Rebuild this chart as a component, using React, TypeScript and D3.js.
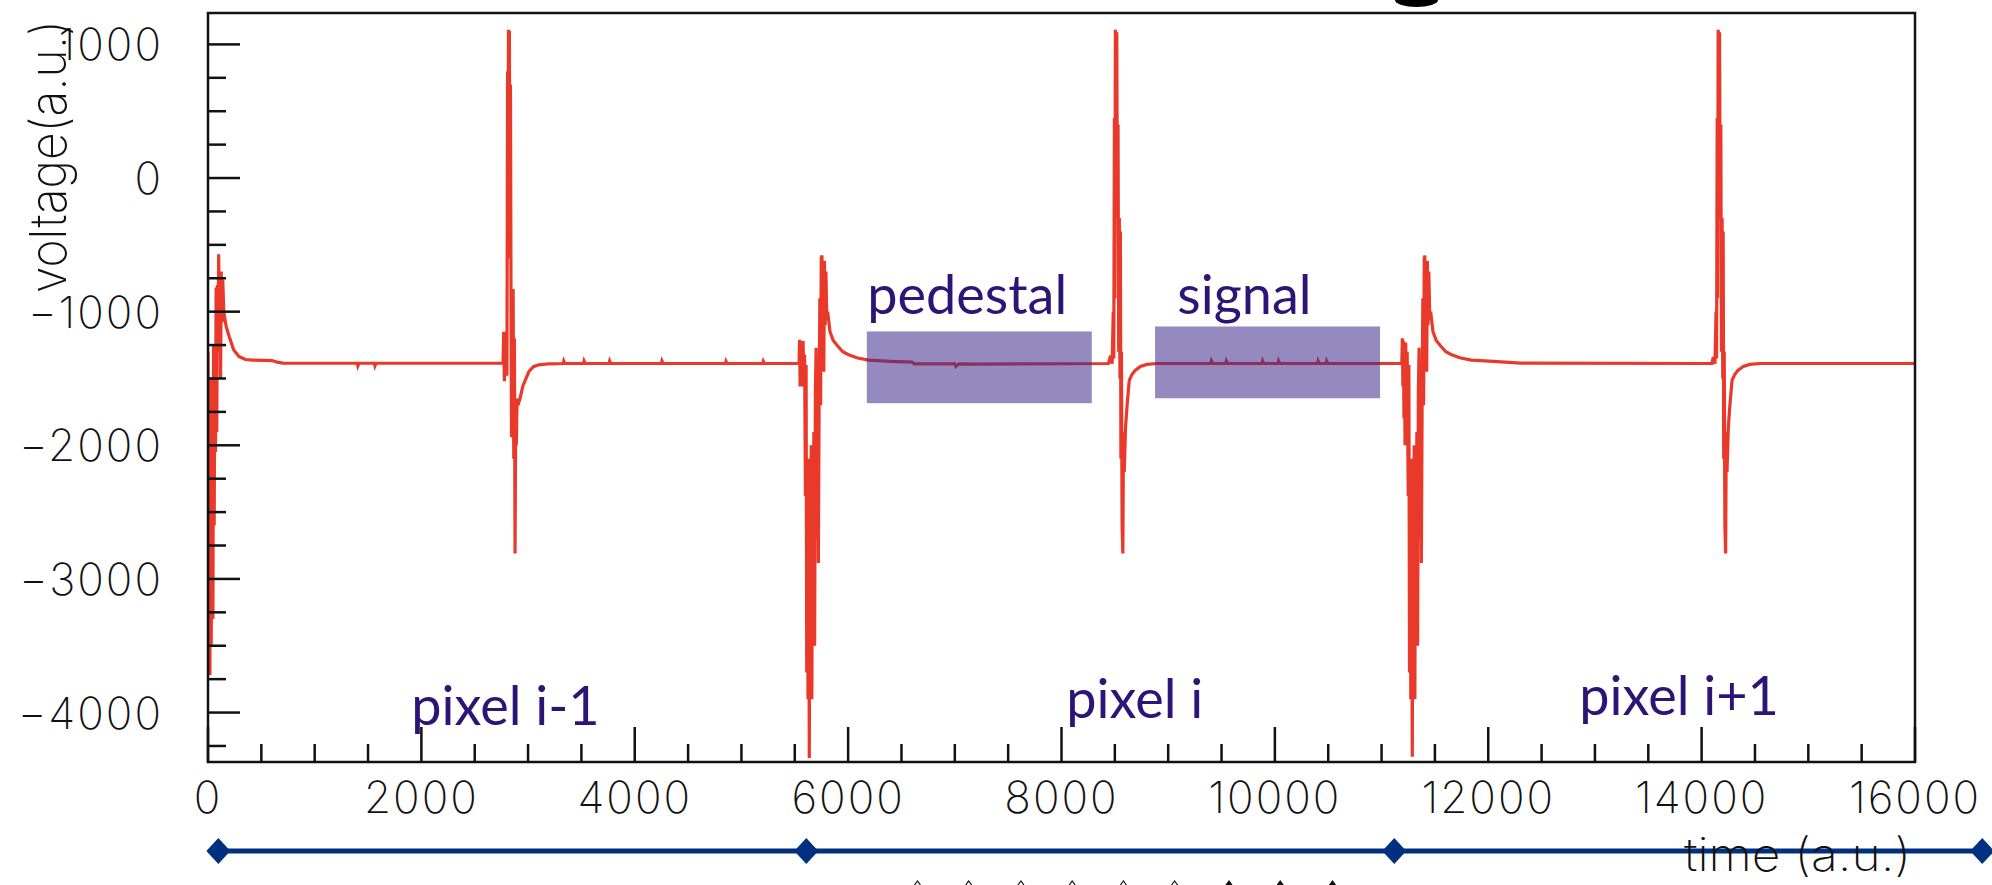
import React, { useEffect } from 'react';
import * as d3 from 'd3';

const W = 1992;
const H = 885;

// scope trace, [time, voltage] pairs, one array per stretch
const prevPixelStart: [number, number][] = [
    [0, -1300], [6, -3000], [12, -1700], [18, -3720], [24, -1500], [30, -3500], [38, -1900],
    [46, -3300], [52, -1250], [58, -2600], [64, -1300], [70, -2050], [76, -820], [82, -1900],
    [88, -800], [94, -1300], [100, -570], [106, -1000], [112, -700], [118, -1500], [124, -700],
    [130, -1080], [138, -760], [148, -1000], [170, -1110], [200, -1190], [240, -1285],
    [290, -1335], [350, -1358], [420, -1362], [600, -1366], [650, -1378], [700, -1385],
];
const prevPixelBaseline: [number, number][] = [
    [1400, -1386], [1405, -1405], [1415, -1386], [1560, -1386], [1565, -1405], [1575, -1386],
    [2765, -1386],
];
const prevPixelSignal: [number, number][] = [
    [2772, -1150], [2778, -1520], [2784, -1170], [2790, -1480], [2796, -1150], [2802, -1480],
    [2808, 800], [2812, -600], [2816, 1110], [2820, -300], [2825, 1100], [2830, -400],
    [2835, 700], [2840, -850], [2845, -1940], [2850, -830], [2855, -1800], [2860, -830],
    [2866, -2100], [2872, -1200], [2878, -2810], [2884, -1800], [2890, -2000], [2897, -1650],
    [2905, -1700], [2925, -1650], [2950, -1560], [2975, -1510], [3010, -1445], [3050, -1412],
    [3100, -1398], [3200, -1390],
];
const prevPixelTail: [number, number][] = [
    [3330, -1388], [3335, -1370], [3345, -1388], [3520, -1388], [3525, -1370], [3535, -1388],
    [3760, -1388], [3765, -1370], [3775, -1388], [4250, -1388], [4255, -1370], [4265, -1388],
    [4850, -1388], [4855, -1372], [4865, -1388], [5200, -1388], [5205, -1372], [5215, -1388],
    [5540, -1388],
];
const pixelStart: [number, number][] = [
    [5545, -1210], [5550, -1560], [5555, -1220], [5560, -1560], [5566, -1220], [5572, -1560],
    [5578, -1220], [5584, -1560], [5592, -1320], [5600, -2380], [5606, -1400], [5612, -3700],
    [5618, -2200], [5624, -3900], [5630, -2100], [5636, -4340], [5642, -2300], [5648, -2900],
    [5654, -2000], [5660, -3900], [5666, -2300], [5672, -2650], [5679, -1900], [5686, -3500],
    [5693, -1600], [5700, -1270], [5707, -2700], [5714, -1500], [5721, -2880], [5728, -1690],
    [5735, -900], [5742, -1700], [5748, -600], [5755, -580], [5761, -1450], [5766, -700],
    [5772, -1450], [5778, -620], [5785, -1100], [5792, -700], [5800, -1060], [5808, -1000],
    [5830, -1150], [5860, -1215], [5900, -1255], [5950, -1300], [6000, -1320], [6080, -1345],
    [6190, -1362], [6400, -1372],
];
const pedestalRun: [number, number][] = [
    [6600, -1378], [6620, -1390], [7000, -1390], [7010, -1410], [7040, -1390], [7200, -1392],
    [8440, -1388],
];
const pixelSignal: [number, number][] = [
    [8460, -1330], [8475, -1390], [8485, -1000], [8490, -1350], [8496, 450], [8500, -900],
    [8505, 1110], [8510, -200], [8518, 1090], [8524, -300], [8530, 400], [8536, -1300],
    [8542, -300], [8548, -1500], [8552, -400], [8557, -2100], [8562, -1300], [8568, -2600],
    [8575, -2810], [8581, -1900], [8588, -2200], [8600, -1870], [8615, -1700], [8635, -1515],
    [8660, -1470], [8690, -1440], [8740, -1410], [8800, -1395], [8900, -1388],
];
const signalRun: [number, number][] = [
    [9400, -1388], [9405, -1370], [9415, -1388], [9540, -1388], [9545, -1370], [9555, -1388],
    [9880, -1388], [9885, -1370], [9895, -1388], [10030, -1388], [10035, -1370], [10045, -1388],
    [10400, -1388], [10405, -1370], [10415, -1388], [10480, -1388], [10485, -1370], [10495, -1388],
    [11190, -1388],
];
const nextPixelStart: [number, number][] = [
    [11195, -1200], [11200, -1560], [11205, -1220], [11210, -1800], [11215, -1230], [11220, -2000],
    [11226, -1230], [11232, -1560], [11240, -1300], [11250, -2380], [11256, -1400], [11262, -3700],
    [11268, -2200], [11274, -3900], [11280, -2100], [11288, -4330], [11294, -2300], [11300, -2900],
    [11306, -2000], [11312, -3900], [11318, -2300], [11324, -2650], [11331, -1900], [11338, -3500],
    [11345, -1600], [11352, -1270], [11359, -2700], [11366, -1500], [11373, -2880], [11380, -1690],
    [11387, -900], [11394, -1700], [11400, -600], [11406, -580], [11412, -1450], [11417, -700],
    [11423, -1450], [11429, -620], [11436, -1100], [11443, -700], [11452, -1060], [11460, -1000],
    [11482, -1150], [11512, -1215], [11552, -1255], [11602, -1300], [11652, -1320], [11732, -1345],
    [11842, -1362], [12050, -1372],
];
const nextPixelBaseline: [number, number][] = [
    [12300, -1385], [14095, -1388],
];
const nextPixelSignal: [number, number][] = [
    [14110, -1340], [14125, -1390], [14135, -1000], [14140, -1350], [14146, 450], [14150, -900],
    [14155, 1110], [14160, -200], [14168, 1090], [14174, -300], [14180, 400], [14186, -1300],
    [14192, -300], [14198, -1500], [14202, -400], [14207, -2100], [14212, -1300], [14218, -2600],
    [14225, -2810], [14231, -1900], [14238, -2200], [14250, -1870], [14265, -1700], [14285, -1515],
    [14310, -1470], [14340, -1440], [14390, -1410], [14450, -1395], [14550, -1388],
];
const nextPixelTail: [number, number][] = [
    [16000, -1388],
];

const xTicks = [0, 2000, 4000, 6000, 8000, 10000, 12000, 14000, 16000];
const yTicks = [1000, 0, -1000, -2000, -3000, -4000];

// integration windows
const windowLabels = ['pedestal', 'signal'];
const windowStart = [6175, 8877];
const windowEnd = [8284, 10986];
const windowTop = [-1148, -1111];
const windowBottom = [-1685, -1648];
const windowLabelTime = [6180, 9086];
const windowLabelVolt = [-1021, -1021];

const pixelLabels = ['pixel i-1', 'pixel i', 'pixel i+1'];
const pixelLabelTime = [1906, 8045, 12853];
const pixelLabelVolt = [-4090, -4037, -4015];

const boundaryTimes = [97, 5608, 11119, 16630];
const caretTimes = [6650, 7130, 7620, 8100, 8580, 9060, 9570, 10050, 10540];

const App: React.FC = () => {
    useEffect(() => {
        document.body.style.margin = '0';
        document.body.style.overflow = 'hidden';
    }, []);

    const margin = { top: 13, right: 77, bottom: 123, left: 208 };
    const width = W - margin.left - margin.right;
    const height = H - margin.top - margin.bottom;

    const x = d3.scaleLinear().domain([0, 16000]).range([0, width]);
    const y = d3.scaleLinear().domain([-4370, 1235]).range([height, 0]);

    const trace = ([] as [number, number][]).concat(
        prevPixelStart, prevPixelBaseline, prevPixelSignal, prevPixelTail,
        pixelStart, pedestalRun, pixelSignal, signalRun,
        nextPixelStart, nextPixelBaseline, nextPixelSignal, nextPixelTail,
    );

    const line = d3.line<[number, number]>()
        .x(d => x(d[0]))
        .y(d => y(d[1]));

    const fmt = d3.format('d');
    const xMinor = d3.range(0, 16001, 500).filter(v => v % 2000 !== 0);
    const yMinor = d3.range(-4250, 1001, 250).filter(v => v % 1000 !== 0);

    const axisFont = '"Inter", "DejaVu Sans", sans-serif';
    const noteFont = 'Lato, "Open Sans", sans-serif';
    const noteColor = '#2c1577';
    const blue = '#00307f';
    const bandY = height + 89;

    return (
        <svg width={W} height={H} style={{ display: 'block', position: 'absolute', left: 0, top: 0, background: '#fff' }}>
            {/* descender of the cut-off title */}
            <path d="M1395,0 A21.5,7 0 0 0 1438,0 Z" fill="#000" />

            <g transform={`translate(${margin.left},${margin.top})`}>
                <defs>
                    <clipPath id="plot-clip">
                        <rect x={0} y={0} width={width} height={height} />
                    </clipPath>
                </defs>

                {/* trace */}
                <path
                    d={line(trace) ?? ''}
                    fill="none"
                    stroke="#e8392a"
                    strokeWidth={3.2}
                    strokeLinejoin="miter"
                    clipPath="url(#plot-clip)"
                />

                {/* windows */}
                {windowLabels.map((lab, i) => (
                    <g key={lab}>
                        <rect
                            x={x(windowStart[i])}
                            y={y(windowTop[i])}
                            width={x(windowEnd[i]) - x(windowStart[i])}
                            height={y(windowBottom[i]) - y(windowTop[i])}
                            fill="#3d2a8a"
                            opacity={0.55}
                        />
                        <text
                            x={x(windowLabelTime[i])}
                            y={y(windowLabelVolt[i])}
                            fontFamily={noteFont}
                            fontSize={54}
                            fill={noteColor}
                        >
                            {lab}
                        </text>
                    </g>
                ))}

                {/* frame */}
                <rect x={0} y={0} width={width} height={height} fill="none" stroke="#111" strokeWidth={2.5} />

                {/* y axis */}
                {yTicks.map(v => (
                    <g key={`y${v}`}>
                        <line x1={0} x2={32} y1={y(v)} y2={y(v)} stroke="#111" strokeWidth={2.5} />
                        <text
                            x={-45}
                            y={y(v) + 16}
                            textAnchor="end"
                            fontFamily={axisFont}
                            fontWeight={200}
                            fontSize={44}
                            letterSpacing={2}
                            fill="#111"
                        >
                            {fmt(v)}
                        </text>
                    </g>
                ))}
                {yMinor.map(v => (
                    <line key={`ym${v}`} x1={0} x2={18} y1={y(v)} y2={y(v)} stroke="#111" strokeWidth={2.5} />
                ))}

                {/* x axis */}
                {xTicks.map(v => (
                    <g key={`x${v}`}>
                        <line x1={x(v)} x2={x(v)} y1={height} y2={height - 35} stroke="#111" strokeWidth={2.5} />
                        <text
                            x={x(v)}
                            y={height + 51}
                            textAnchor="middle"
                            fontFamily={axisFont}
                            fontWeight={200}
                            fontSize={44}
                            letterSpacing={2}
                            fill="#111"
                        >
                            {fmt(v)}
                        </text>
                    </g>
                ))}
                {xMinor.map(v => (
                    <line key={`xm${v}`} x1={x(v)} x2={x(v)} y1={height} y2={height - 18} stroke="#111" strokeWidth={2.5} />
                ))}

                {/* axis titles */}
                <text
                    transform={`translate(${-142},${7}) rotate(-90)`}
                    textAnchor="end"
                    fontFamily={axisFont}
                    fontWeight={200}
                    fontSize={50}
                    textLength={273}
                    lengthAdjust="spacingAndGlyphs"
                    fill="#111"
                >
                    voltage(a.u.)
                </text>

                {/* pixel labels */}
                {pixelLabels.map((lab, i) => (
                    <text
                        key={lab}
                        x={x(pixelLabelTime[i])}
                        y={y(pixelLabelVolt[i])}
                        fontFamily={noteFont}
                        fontSize={54}
                        fill={noteColor}
                    >
                        {lab}
                    </text>
                ))}

                {/* pixel boundaries band */}
                <line
                    x1={x(boundaryTimes[0])}
                    x2={x(boundaryTimes[boundaryTimes.length - 1])}
                    y1={bandY}
                    y2={bandY}
                    stroke={blue}
                    strokeWidth={5}
                />
                {boundaryTimes.map(t => (
                    <path
                        key={`b${t}`}
                        d={`M${x(t) - 12},${bandY} L${x(t)},${bandY - 13} L${x(t) + 12},${bandY} L${x(t)},${bandY + 13} Z`}
                        fill={blue}
                    />
                ))}

                <text
                    x={width - 4}
                    y={height + 109}
                    textAnchor="end"
                    fontFamily={axisFont}
                    fontWeight={200}
                    fontSize={46}
                    textLength={227}
                    lengthAdjust="spacingAndGlyphs"
                    fill="#111"
                >
                    time (a.u.)
                </text>

                {/* tips of the sample markers below */}
                {caretTimes.map((t, i) => (
                    <path
                        key={`c${t}`}
                        d={`M${x(t) - 3},${H - margin.top} L${x(t)},${H - margin.top - 4} L${x(t) + 3},${H - margin.top}`}
                        fill={i < 6 ? 'none' : '#111'}
                        stroke="#111"
                        strokeWidth={1.2}
                    />
                ))}
            </g>
        </svg>
    );
};

export default App;
